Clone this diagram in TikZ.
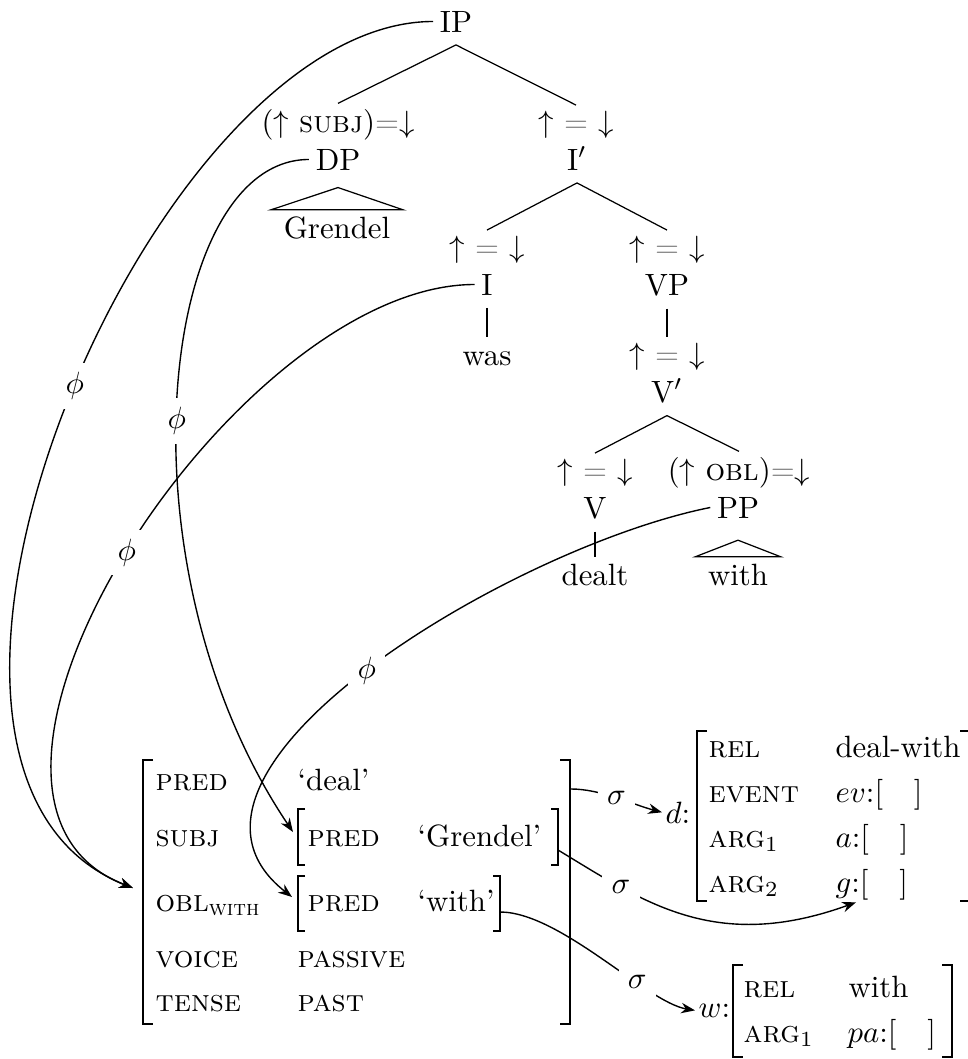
\documentclass[tikz,border=0pt]{standalone}
\usepackage{amsmath}
\usetikzlibrary{arrows.meta,calc}
\newcommand{\updn}{$\uparrow$ \textcolor{gray}{=} $\downarrow$}
\begin{document}
\begin{tikzpicture}[x=0.3247pt,y=-0.3247pt,
  cat/.style={anchor=base, inner xsep=2pt, inner ysep=4pt},
  leaf/.style={anchor=base, inner xsep=2pt, inner ysep=2pt, text height=6.94pt},
  tri/.style={anchor=base, inner xsep=4pt, inner ysep=2pt, text height=6.94pt},
  ann/.style={anchor=base, inner xsep=1pt, inner ysep=1.6pt},
  feat/.style={anchor=base west, inner sep=0pt},
  lab/.style={anchor=base west, inner sep=1pt},
  tl/.style={line width=0.4pt},
  bigbr/.style={line width=0.7pt},
  smbr/.style={line width=0.45pt},
  mapline/.style={line width=0.45pt},
  maparr/.style={mapline, -{Stealth[length=4.5pt,width=3.4pt]}},
  maplab/.style={fill=white, inner sep=3pt}]
\useasboundingbox (0,0) rectangle (968,1059);
\clip (0,0) rectangle (968,1059);

% ---------------- c-structure ----------------
\node[cat] (IP) at (456,32) {IP};
\node[ann] (aDP) at (338,132) {$(\uparrow$ \textsc{subj}$)$\textcolor{gray}{=}$\downarrow$};
\node[ann] (aIb) at (576,132) {\updn};
\node[cat] (DP) at (338,170) {DP};
\node[cat] (Ib) at (577,170) {I$'$};
\node[tri] (Grendel) at (337,238) {Grendel};
\node[ann] (aI) at (487,257) {\updn};
\node[ann] (aVP) at (667,257) {\updn};
\node[cat] (I) at (487,295) {I};
\node[cat] (VP) at (667,295) {VP};
\node[leaf] (was) at (487,365) {was};
\node[ann] (aVb) at (667,364) {\updn};
\node[cat] (Vb) at (667,402) {V$'$};
\node[ann] (aV) at (595,480) {\updn};
\node[ann] (aPP) at (739,480) {$(\uparrow$ \textsc{obl}$)$\textcolor{gray}{=}$\downarrow$};
\node[cat] (V) at (595,518) {V};
\node[cat] (PP) at (738,518) {PP};
\node[leaf] (dealt) at (595,585) {dealt};
\node[tri] (with) at (738,585) {with};

\draw[tl] (IP.south) -- (aDP.north);
\draw[tl] (IP.south) -- (aIb.north);
\draw[tl] (Ib.south) -- (aI.north);
\draw[tl] (Ib.south) -- (aVP.north);
\draw[tl] (I.south) -- (was.north);
\draw[tl] (VP.south) -- (aVb.north);
\draw[tl] (Vb.south) -- (aV.north);
\draw[tl] (Vb.south) -- (aPP.north);
\draw[tl] (V.south) -- (dealt.north);
\draw[tl] ([yshift=-1.5pt]DP.south) -- (Grendel.north west) -- (Grendel.north east) -- cycle;
\draw[tl] ([yshift=-3pt]PP.south) -- (with.north west) -- (with.north east) -- cycle;

% ---------------- f-structure ----------------
\node[feat] (fPRED) at (155,790) {\textsc{pred}};
\node[feat] (fSUBJ) at (155,846) {\textsc{subj}};
\node[feat] (fOBL) at (155,911) {\textsc{obl}$_{\text{\textsc{with}}}$};
\node[feat] (fVOICE) at (155,967) {\textsc{voice}};
\node[feat] (fTENSE) at (155,1011) {\textsc{tense}};
\node[feat] (vPRED) at (297,790) {`deal'};
\node[feat] (sPRED) at (307,846) {\textsc{pred}};
\node[feat] (sVal) at (417,846) {`Grendel'};
\node[feat] (oPRED) at (307,911) {\textsc{pred}};
\node[feat] (oVal) at (417,911) {`with'};
\node[feat] (vVOICE) at (297,967) {\textsc{passive}};
\node[feat] (vTENSE) at (297,1011) {\textsc{past}};

\draw[bigbr] (153,760) -- (143,760) -- (143,1024) -- (153,1024);
\draw[bigbr] (560,760) -- (570,760) -- (570,1024) -- (560,1024);
\draw[smbr] (305,809) -- (298,809) -- (298,865) -- (305,865);
\draw[smbr] (551,809) -- (558,809) -- (558,865) -- (551,865);
\draw[smbr] (305,876) -- (298,876) -- (298,931) -- (305,931);
\draw[smbr] (493,876) -- (500,876) -- (500,931) -- (493,931);

% ---------------- s-structures ----------------
\node[lab] (dlab) at (662,823) {$d$:};
\node[feat] (dREL) at (708,757) {\textsc{rel}};
\node[feat] (dEV) at (708,802) {\textsc{event}};
\node[feat] (dA1) at (708,847) {\textsc{arg}$_1$};
\node[feat] (dA2) at (708,892) {\textsc{arg}$_2$};
\node[feat] (dvREL) at (835,757) {deal-with};
\node[feat] (dvEV) at (835,802) {$ev$:[\quad]};
\node[feat] (dvA1) at (835,847) {$a$:[\quad]};
\node[feat] (dvA2) at (835,892) {$g$:[\quad]};
\draw[bigbr] (707,731) -- (697,731) -- (697,901) -- (707,901);
\draw[bigbr] (960,731) -- (970,731) -- (970,901) -- (960,901);

\node[lab] (wlab) at (695,1017) {$w$:};
\node[feat] (wREL) at (743,997) {\textsc{rel}};
\node[feat] (wA1) at (743,1042) {\textsc{arg}$_1$};
\node[feat] (wvREL) at (848,997) {with};
\node[feat] (wvA1) at (847,1042) {$pa$:[\quad]};
\draw[bigbr] (743,965) -- (733,965) -- (733,1057) -- (743,1057);
\draw[bigbr] (942,965) -- (952,965) -- (952,1057) -- (942,1057);

% ---------------- mapping coordinates ----------------
\coordinate (oblin) at (133,888);
\coordinate (subjin) at (293,832);
\coordinate (ppin) at (292,897);
\coordinate (mainR) at (571,789);
\coordinate (subjR) at (558,850);
\coordinate (oblR) at (500,912);
\coordinate (gtip) at ($(dvA2.south west)+(21,2)$);

% ---------------- phi ----------------
\draw[maparr] (IP.west) .. controls +(-283,0) and +(-298,-119) .. node[maplab,pos=0.48] {$\phi$} (oblin);
\draw[maparr] (DP.west) .. controls +(-150,0) and +(-179,-266) .. node[maplab,pos=0.53] {$\phi$} (subjin);
\draw[maparr] (I.west) .. controls +(-240,0) and +(-232,-90) .. node[maplab,pos=0.5] {$\phi$} (oblin);
\draw[maparr] (PP.west) .. controls +(-200,40) and +(-158,-124) .. node[maplab,pos=0.5] {$\phi$} (ppin);

% ---------------- sigma ----------------
\draw[maparr] (mainR) .. controls +(30,0) and +(-30,-8) .. node[maplab,pos=0.5] {$\sigma$} (dlab.west);
\draw[maparr] (subjR) .. controls +(86,52) and +(-141,51) .. node[maplab,pos=0.25] {$\sigma$} (gtip);
\draw[maparr] (oblR) .. controls +(60,0) and +(-48,-8) .. node[maplab,pos=0.67] {$\sigma$} (wlab.west);
\end{tikzpicture}
\end{document}
